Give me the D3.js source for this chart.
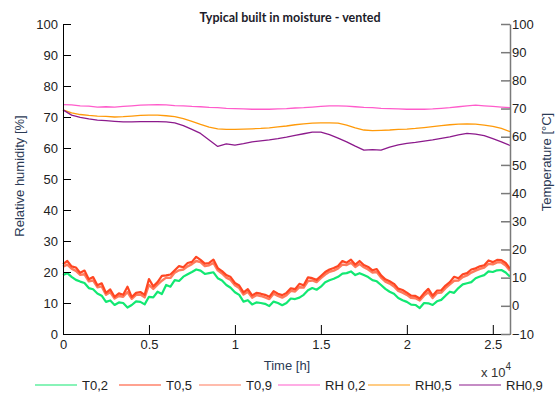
<!DOCTYPE html>
<html>
<head>
<meta charset="utf-8">
<script src="https://cdn.jsdelivr.net/npm/d3@7"></script>
<style>
  body { margin: 0; background: #fff; }
  svg { display: block; font-family: "Liberation Sans", Arial, sans-serif; }
</style>
</head>
<body>
<div id="chart"></div>
<script>
// time step of the sampled series, in hours
var stepT = 250, stepRH = 500;

// temperatures [°C], one value every 250 h
var t02 = [10.9, 11.6, 10.3, 9.2, 8.6, 8.1, 6.3, 5.9, 4.4, 3.6, 1.4, 1.9, 0.3, 1.2, 1.0, -0.6, 0.3, 1.6, 1.4, 0.5,
  3.2, 3.0, 5.0, 4.2, 7.4, 6.8, 9.1, 8.8, 10.35, 11.2, 12.0, 12.9, 12.5, 11.3, 11.6, 11.9, 9.8, 9.0, 7.4, 6.4,
  4.8, 3.9, 1.5, 2.0, 0.5, 1.2, 1.0, 0.7, -0.1, 1.5, 1.0, 0.2, 1.0, 2.6, 2.4, 2.9, 3.9, 5.5, 6.3, 5.7,
  6.8, 8.4, 9.1, 9.6, 10.3, 11.4, 11.6, 12.2, 10.9, 11.6, 10.9, 10.2, 9.1, 8.7, 7.4, 6.0, 5.0, 4.3, 2.8, 2.0,
  1.4, 0.4, 0.3, -0.8, 1.0, 0.9, 0.3, 1.6, 2.1, 3.6, 5.0, 4.6, 6.3, 7.6, 8.0, 8.4, 9.8, 10.4, 10.9, 12.2,
  12.0, 12.6, 12.7, 11.8, 10.35];
var t05 = [14.8, 15.9, 14.0, 13.6, 11.7, 12.5, 9.4, 10.2, 7.3, 8.0, 4.6, 5.8, 3.2, 4.4, 3.9, 6.8, 3.1, 4.6, 4.9, 3.9,
  9.5, 6.9, 8.4, 10.6, 10.8, 11.1, 12.6, 14.1, 13.7, 15.2, 15.6, 17.4, 16.3, 15.0, 15.2, 16.4, 13.4, 12.3, 10.9, 10.2,
  8.1, 7.2, 4.8, 5.9, 3.7, 4.6, 4.3, 3.9, 3.2, 5.2, 4.3, 3.8, 4.6, 6.2, 5.9, 7.8, 7.3, 10.1, 9.8, 9.2,
  10.6, 12.0, 12.9, 13.4, 14.1, 15.9, 15.3, 16.4, 14.6, 15.9, 14.5, 13.8, 12.6, 13.0, 10.8, 9.4, 8.7, 7.8, 6.1, 5.6,
  4.7, 3.6, 3.5, 2.6, 4.5, 6.0, 3.6, 5.4, 5.5, 7.2, 8.4, 10.3, 9.8, 11.2, 11.6, 12.9, 13.3, 14.0, 14.4, 16.1,
  15.5, 16.3, 16.2, 15.2, 13.2];
var t09 = [13.9, 14.6, 13.2, 12.4, 11.0, 11.2, 8.7, 9.0, 6.6, 6.9, 3.9, 4.8, 2.6, 3.5, 3.2, 4.9, 2.5, 3.9, 4.0, 3.0,
  7.4, 6.0, 7.5, 8.9, 10.0, 9.9, 11.8, 12.6, 12.9, 14.0, 14.8, 15.9, 15.5, 14.1, 14.4, 15.2, 12.6, 11.5, 10.0, 9.2,
  7.3, 6.3, 4.0, 5.0, 2.9, 3.8, 3.5, 3.0, 2.4, 4.3, 3.5, 2.9, 3.8, 5.3, 5.1, 6.6, 6.5, 8.8, 9.0, 8.4,
  9.8, 11.1, 12.1, 12.5, 13.3, 14.6, 14.5, 15.3, 13.8, 14.8, 13.7, 12.9, 11.8, 12.0, 10.0, 8.6, 7.9, 6.9, 5.3, 4.7,
  3.9, 2.8, 2.7, 1.9, 3.6, 4.8, 2.8, 4.5, 4.7, 6.3, 7.6, 8.9, 9.0, 10.2, 10.8, 11.8, 12.5, 13.1, 13.6, 14.9,
  14.7, 15.4, 15.4, 14.3, 12.4];

// relative humidity [%], one value every 500 h
var rh02 = [74.0, 73.9, 73.6, 73.5, 73.2, 73.3, 73.2, 73.4, 73.6, 73.8, 73.9, 74.0, 73.9, 73.7, 73.6, 73.4, 73.3, 73.1,
  73.0, 72.8, 72.7, 72.6, 72.5, 72.5, 72.5, 72.6, 72.7, 72.9, 73.0, 73.2, 73.4, 73.6, 73.6, 73.5, 73.3, 73.1,
  73.0, 72.8, 72.7, 72.6, 72.5, 72.5, 72.5, 72.6, 72.8, 73.0, 73.3, 73.6, 73.8, 73.6, 73.4, 73.2, 73.0];
var rh05 = [72.3, 71.3, 70.8, 70.5, 70.3, 70.2, 70.0, 70.1, 70.3, 70.5, 70.6, 70.6, 70.4, 70.1, 69.5, 68.6, 67.6, 66.7,
  66.2, 66.0, 66.0, 66.1, 66.2, 66.3, 66.5, 66.8, 67.1, 67.5, 67.8, 68.0, 68.1, 68.1, 68.0, 67.4, 66.5, 65.8,
  65.6, 65.7, 65.8, 66.0, 66.1, 66.3, 66.6, 66.9, 67.2, 67.5, 67.7, 67.8, 67.7, 67.4, 67.0, 66.3, 65.3];
var rh09 = [72.3, 70.6, 69.9, 69.4, 69.0, 68.8, 68.6, 68.4, 68.4, 68.5, 68.5, 68.5, 68.4, 68.1, 67.2, 66.0, 64.7, 62.6,
  60.5, 61.3, 60.9, 61.4, 62.0, 62.3, 62.6, 63.0, 63.5, 64.1, 64.6, 65.1, 65.1, 64.3, 63.2, 62.0, 60.6, 59.3,
  59.5, 59.3, 60.3, 61.0, 61.5, 61.8, 62.2, 62.6, 63.1, 63.6, 64.2, 64.7, 64.5, 64.0, 63.0, 62.0, 60.8];

var xTicks = [0, 5000, 10000, 15000, 20000, 25000];
var rhTicks = [0, 10, 20, 30, 40, 50, 60, 70, 80, 90, 100];
var tTicks = [-10, 0, 10, 20, 30, 40, 50, 60, 70, 80, 90, 100];

var series = [
  { name: "T0,9", values: t09, step: stepT, axis: "T", color: "#ff7a5c", width: 2.4 },
  { name: "T0,5", values: t05, step: stepT, axis: "T", color: "#ff4622", width: 2.2 },
  { name: "T0,2", values: t02, step: stepT, axis: "T", color: "#12e872", width: 2.2 },
  { name: "RH 0,2", values: rh02, step: stepRH, axis: "RH", color: "#ff5ccb", width: 1.3 },
  { name: "RH0,5", values: rh05, step: stepRH, axis: "RH", color: "#ff9a0a", width: 1.3 },
  { name: "RH0,9", values: rh09, step: stepRH, axis: "RH", color: "#8c1a8c", width: 1.3 }
];
var legendOrder = ["T0,2", "T0,5", "T0,9", "RH 0,2", "RH0,5", "RH0,9"];

var W = 559, H = 394;
var margin = { top: 24, right: 49, bottom: 60, left: 63 };

var svg = d3.select("#chart").append("svg")
  .attr("width", W).attr("height", H);

var x = d3.scaleLinear().domain([0, 26000]).range([margin.left, W - margin.right]);
var yRH = d3.scaleLinear().domain([0, 100]).range([H - margin.bottom, margin.top]);
var yT = d3.scaleLinear().domain([-10, 100]).range([H - margin.bottom, margin.top]);

// lines
series.forEach(function (s) {
  var y = s.axis === "T" ? yT : yRH;
  var line = d3.line()
    .x(function (d, i) { return x(i * s.step); })
    .y(function (d) { return y(d); });
  svg.append("path")
    .datum(s.values)
    .attr("fill", "none")
    .attr("stroke", s.color)
    .attr("stroke-width", s.width)
    .attr("stroke-linejoin", "round")
    .attr("d", line);
});

// axes
var gx = svg.append("g")
  .attr("transform", "translate(0," + (H - margin.bottom) + ")")
  .call(d3.axisBottom(x).tickValues(xTicks).tickSizeInner(-9).tickSizeOuter(0).tickPadding(6)
    .tickFormat(function (d) { return d / 10000; }));

var gl = svg.append("g")
  .attr("transform", "translate(" + margin.left + ",0)")
  .call(d3.axisLeft(yRH).tickValues(rhTicks).tickSizeInner(-8).tickSizeOuter(0).tickPadding(5));

var gr = svg.append("g")
  .attr("transform", "translate(" + (W - margin.right) + ",0)")
  .call(d3.axisRight(yT).tickValues(tTicks).tickSizeInner(-9).tickSizeOuter(0).tickPadding(2));

[gx, gl].forEach(function (g) {
  g.selectAll("path,line").attr("stroke", "#000");
});
gr.selectAll("path,line").attr("stroke", "#7a7a7a").attr("stroke-width", 1.5);
[gx, gl, gr].forEach(function (g) {
  g.selectAll("text").attr("fill", "#222").style("font-size", "13px")
    .style("font-family", "'Liberation Sans', Arial, sans-serif");
});

// title and labels
svg.append("text")
  .attr("x", 290).attr("y", 22)
  .attr("text-anchor", "middle")
  .style("font-family", "Lato, 'Open Sans', sans-serif")
  .style("font-weight", "bold")
  .style("font-size", "12.5px")
  .attr("fill", "#1c1c2a")
  .text("Typical built in moisture - vented");

svg.append("text")
  .attr("x", 287).attr("y", 370)
  .attr("text-anchor", "middle")
  .style("font-size", "13px")
  .attr("fill", "#2b3a55")
  .text("Time [h]");

var mult = svg.append("text")
  .attr("x", 481).attr("y", 377)
  .style("font-size", "13px")
  .attr("fill", "#333");
mult.append("tspan").text("x 10");
mult.append("tspan").attr("dy", -7).style("font-size", "10px").text("4");

svg.append("text")
  .attr("transform", "translate(24,176) rotate(-90)")
  .attr("text-anchor", "middle")
  .style("font-size", "13px")
  .attr("fill", "#2b3a55")
  .text("Relative humidity  [%]");

svg.append("text")
  .attr("transform", "translate(551,162) rotate(-90)")
  .attr("text-anchor", "middle")
  .style("font-size", "13px")
  .attr("fill", "#2b3a55")
  .text("Temperature [°C]");

// legend
var legX = [35, 119, 199, 278, 368, 459];
var legend = svg.append("g").attr("transform", "translate(0,385)");
legendOrder.forEach(function (name, i) {
  var s = series.find(function (d) { return d.name === name; });
  var g = legend.append("g").attr("transform", "translate(" + legX[i] + ",0)");
  g.append("line")
    .attr("x1", 0).attr("x2", 42).attr("y1", 0).attr("y2", 0)
    .attr("stroke", s.color).attr("stroke-width", 1.2);
  g.append("text")
    .attr("x", 47).attr("y", 0).attr("dy", "0.35em")
    .style("font-size", "13px")
    .attr("fill", "#222")
    .text(name);
});
</script>
</body>
</html>
